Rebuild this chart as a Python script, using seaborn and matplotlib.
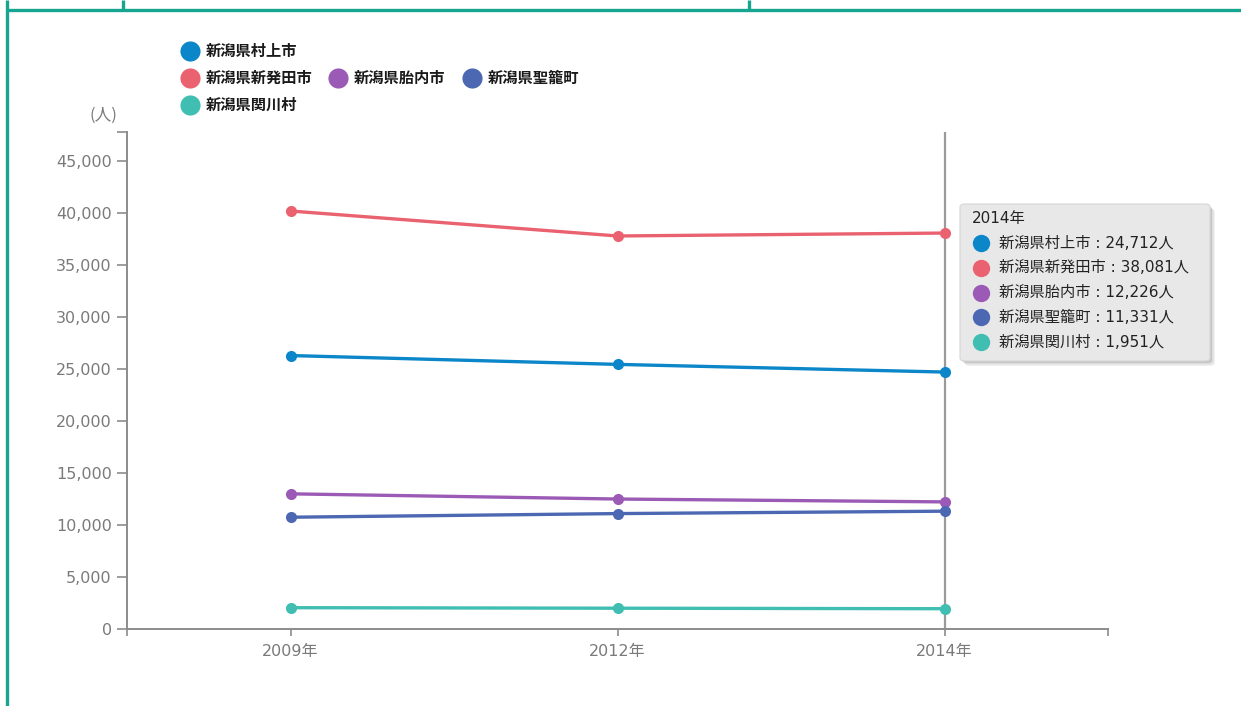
import matplotlib
matplotlib.use("Agg")
import matplotlib.pyplot as plt
import seaborn as sns
import pandas as pd
from matplotlib.lines import Line2D
from matplotlib.patches import FancyBboxPatch

# ---- data -------------------------------------------------------------
years = ["2009年", "2012年", "2014年"]
names = ["新潟県村上市", "新潟県新発田市", "新潟県胎内市", "新潟県聖籠町", "新潟県関川村"]
murakami = [26300, 25450, 24712]
shibata = [40200, 37800, 38081]
tainai = [13000, 12500, 12226]
seiro = [10750, 11100, 11331]
sekikawa = [2050, 2000, 1951]
yticks = [0, 5000, 10000, 15000, 20000, 25000, 30000, 35000, 40000, 45000]
unit_label = "(人)"
focus_year = "2014年"

series = [murakami, shibata, tainai, seiro, sekikawa]
colors = ["#0b86c9", "#ea6170", "#9b5ab5", "#4c68b3", "#3fbeb1"]

df = pd.DataFrame(
    [(y, n, v) for n, vals in zip(names, series) for y, v in zip(years, vals)],
    columns=["年", "市町村", "人口"],
)

# ---- style ------------------------------------------------------------
sns.set_style("white")
plt.rcParams["font.family"] = ["Noto Sans CJK JP", "DejaVu Sans"]
num_family = ["DejaVu Sans", "Noto Sans CJK JP"]

W, H = 1241, 706
fig = plt.figure(figsize=(W / 100, H / 100), dpi=100)
fig.patch.set_facecolor("white")


def fx(x):
    return x / W


def fy(y):
    return 1 - y / H


ax = fig.add_axes([fx(127), fy(629), fx(1108) - fx(127), fy(132) - fy(629)])

sns.lineplot(
    data=df, x="年", y="人口", hue="市町村", hue_order=names,
    palette=colors, marker="o", markersize=8, markeredgewidth=0,
    linewidth=2.4, sort=False, legend=False, ax=ax,
)

ax.set_xlim(-0.5, 2.5)
ax.set_ylim(0, 47800)
ax.set_xlabel("")
ax.set_ylabel("")

axis_grey = "#8c8c8c"
label_grey = "#7a7a7a"
for side in ("top", "right"):
    ax.spines[side].set_visible(False)
for side in ("left", "bottom"):
    ax.spines[side].set_color(axis_grey)
    ax.spines[side].set_linewidth(1.4)

ax.set_yticks(yticks)
ax.set_yticklabels([f"{v:,}" for v in yticks], family=num_family)
ax.set_xticks(range(len(years)))
ax.set_xticklabels(years, family=num_family)
ax.set_yticks([47800], minor=True)
ax.set_xticks([-0.5, 2.5], minor=True)
ax.tick_params(axis="y", which="both", direction="out", length=7, width=1.2,
               color=axis_grey, labelcolor=label_grey, labelsize=11.5, pad=4,
               left=True)
ax.tick_params(axis="x", which="both", direction="out", length=5, width=1.2,
               color=axis_grey, labelcolor=label_grey, labelsize=11.5, pad=6,
               bottom=True)
ax.grid(False)

# crosshair at the highlighted year
ax.axvline(years.index(focus_year), color="#9a9a9a", lw=1.6, zorder=1)

# unit label
fig.text(fx(103), fy(115), unit_label, ha="center", va="center",
         fontsize=12, color=label_grey)

# ---- legend -----------------------------------------------------------
legend_pos = [(190, 51), (190, 78), (338, 78), (472, 78), (190, 105)]
for (x, y), name, c in zip(legend_pos, names, colors):
    fig.add_artist(Line2D([fx(x)], [fy(y)], marker="o", markersize=14.5,
                          markeredgewidth=0, color=c, transform=fig.transFigure))
    fig.text(fx(x + 16), fy(y), name, ha="left", va="center",
             fontsize=11, fontweight="bold", color="#1a1a1a")

# ---- tooltip ----------------------------------------------------------
bx0, by0, bx1, by1 = 960, 204, 1210, 361
for off, a in ((5, 0.06), (3.5, 0.08), (2, 0.10)):
    fig.add_artist(FancyBboxPatch(
        (fx(bx0 + off), fy(by1 + off)), fx(bx1 - bx0), fy(by0) - fy(by1),
        boxstyle="round,pad=0,rounding_size=0.004", transform=fig.transFigure,
        facecolor="black", edgecolor="none", alpha=a, zorder=5))
fig.add_artist(FancyBboxPatch(
    (fx(bx0), fy(by1)), fx(bx1 - bx0), fy(by0) - fy(by1),
    boxstyle="round,pad=0,rounding_size=0.004", transform=fig.transFigure,
    facecolor="#e8e8e8", edgecolor="#d6d6d6", linewidth=0.8, zorder=6))

fi = years.index(focus_year)
fig.text(fx(972), fy(219), focus_year, ha="left", va="center",
         fontsize=11, family=num_family, color="#222222", zorder=7)
for i, (name, vals, c) in enumerate(zip(names, series, colors)):
    y = 243 + i * 24.8
    fig.add_artist(Line2D([fx(981)], [fy(y)], marker="o", markersize=12.5,
                          markeredgewidth=0, color=c, transform=fig.transFigure,
                          zorder=7))
    fig.text(fx(999), fy(y), f"{name} : {vals[fi]:,}人", ha="left",
             va="center", fontsize=11, family=num_family, color="#222222",
             zorder=7)

# ---- page frame -------------------------------------------------------
teal = "#16a68f"
frame = [
    ([fx(7), fx(W)], [fy(10), fy(10)]),
    ([fx(7), fx(7)], [fy(0), fy(H)]),
    ([fx(123), fx(123)], [fy(0), fy(10)]),
    ([fx(749), fx(749)], [fy(0), fy(10)]),
]
for xs, ys in frame:
    fig.add_artist(Line2D(xs, ys, color=teal, lw=2.4,
                          transform=fig.transFigure, solid_capstyle="butt"))

fig.savefig("out.png", dpi=100, facecolor="white")
